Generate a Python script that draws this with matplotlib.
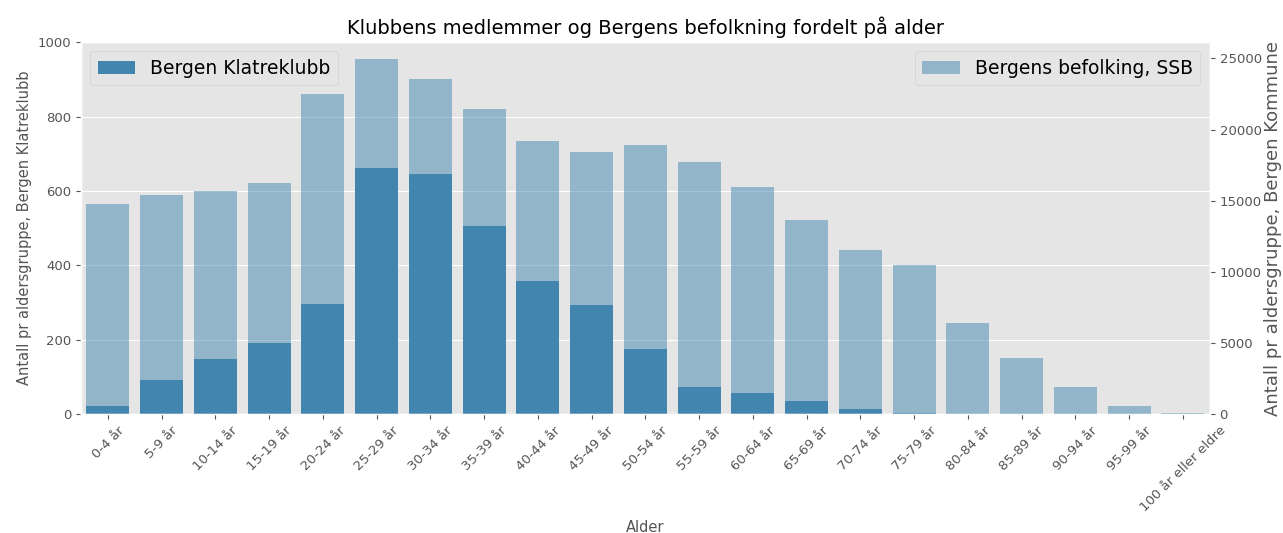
import matplotlib
matplotlib.use("Agg")
import matplotlib.pyplot as plt
import numpy as np

plt.style.use("ggplot")

# age groups
aldersgrupper = ["0-4 år", "5-9 år", "10-14 år", "15-19 år", "20-24 år",
                 "25-29 år", "30-34 år", "35-39 år", "40-44 år", "45-49 år",
                 "50-54 år", "55-59 år", "60-64 år", "65-69 år", "70-74 år",
                 "75-79 år", "80-84 år", "85-89 år", "90-94 år", "95-99 år",
                 "100 år eller eldre"]

# members in the climbing club
klubb = [22, 93, 148, 190, 296, 662, 646, 507, 359, 293,
         175, 73, 56, 35, 13, 2, 0, 0, 0, 0, 0]

# population of Bergen (SSB)
befolkning = [14785, 15420, 15675, 16215, 22515, 24950, 23550, 21440, 19215, 18395,
              18930, 17715, 15955, 13615, 11550, 10450, 6395, 3960, 1900, 540, 50]

farge = "#4286b0"

fig, ax = plt.subplots(figsize=(12.83, 5.33), dpi=100)
fig.subplots_adjust(left=0.0632, right=0.943, bottom=0.223, top=0.921)

x = np.arange(len(aldersgrupper))
ax.bar(x, klubb, width=0.8, color=farge, label="Bergen Klatreklubb")
ax.set_ylim(0, 1000)
ax.set_xlim(-0.5, len(aldersgrupper) - 0.5)
ax.set_xticks(x)
ax.set_xticklabels(aldersgrupper, rotation=45, fontsize=9.5)
ax.tick_params(axis="y", labelsize=9.5)
ax.grid(axis="x", visible=False)
ax.set_xlabel("Alder", fontsize=10.5, color="#555555")
ax.set_ylabel("Antall pr aldersgruppe, Bergen Klatreklubb", fontsize=10.5, color="#555555")
ax.set_title("Klubbens medlemmer og Bergens befolkning fordelt på alder", fontsize=14)

ax2 = ax.twinx()
ax2.bar(x, befolkning, width=0.8, color=farge, alpha=0.5, label="Bergens befolking, SSB")
ax2.set_ylim(0, 26150)
ax2.grid(False)
ax2.tick_params(axis="y", labelsize=9.5)
ax2.set_ylabel("Antall pr aldersgruppe, Bergen Kommune", fontsize=13, color="#555555", labelpad=2)

ax.legend(loc="upper left", fontsize=13.5)
ax2.legend(loc="upper right", fontsize=13.5)

plt.savefig("out.png")
